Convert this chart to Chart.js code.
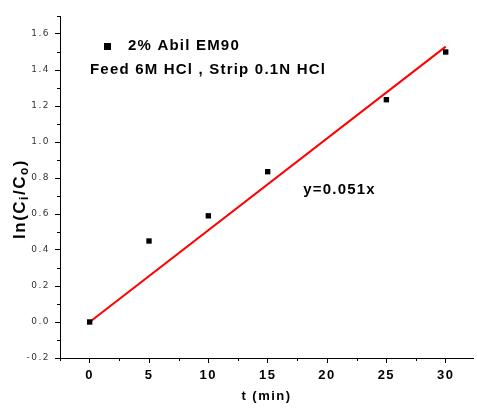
<!DOCTYPE html>
<html>
<head>
<meta charset="utf-8">
<script src="https://cdn.jsdelivr.net/npm/chart.js@4/dist/chart.umd.min.js"></script>
<style>
  html, body { margin: 0; padding: 0; background: #fff; }
  #wrap { width: 477px; height: 408px; position: relative; }
</style>
</head>
<body>
<div id="wrap"><canvas id="chart"></canvas></div>
<script>
// measured points, ln(Ci/Co) vs t
const timeMin = [0, 5, 10, 15, 25, 30];
const lnRatio = [0.0, 0.45, 0.59, 0.835, 1.235, 1.50];

// linear fit y = 0.051x
const fitX = [0, 30];
const fitY = [0, 1.53];

const xTicks = [0, 5, 10, 15, 20, 25, 30];
const xMinor = [-2.5, 2.5, 7.5, 12.5, 17.5, 22.5, 27.5, 32.5];
const yTicks = [-0.2, 0, 0.2, 0.4, 0.6, 0.8, 1.0, 1.2, 1.4, 1.6];
const yMinor = [-0.1, 0.1, 0.3, 0.5, 0.7, 0.9, 1.1, 1.3, 1.5, 1.7];

const seriesLabel = '2% Abil EM90';
const noteLine = 'Feed 6M HCl , Strip 0.1N HCl';
const fitLabel = 'y=0.051x';

const FONT = '"Liberation Sans", Arial, sans-serif';

// Origin-style wide letter spacing for the axis text
const spacing = {
  id: 'spacing',
  beforeDraw(chart) { chart.ctx.letterSpacing = '1.5px'; },
  afterDraw(chart) { chart.ctx.letterSpacing = '0px'; }
};

// minor ticks + texts that Origin puts inside the plot
const extras = {
  id: 'extras',
  afterDraw(chart) {
    const ctx = chart.ctx;
    const xs = chart.scales.x, ys = chart.scales.y;
    const area = chart.chartArea;
    ctx.save();
    ctx.strokeStyle = '#000';
    ctx.lineWidth = 1;
    ctx.beginPath();
    xMinor.forEach(v => {
      const px = Math.round(xs.getPixelForValue(v)) + 0.5;
      if (px < area.left - 1 || px > area.right + 1) return;
      ctx.moveTo(px, area.bottom);
      ctx.lineTo(px, area.bottom + 3);
    });
    yMinor.forEach(v => {
      const py = Math.round(ys.getPixelForValue(v)) + 0.5;
      if (py < area.top - 1 || py > area.bottom + 1) return;
      ctx.moveTo(area.left, py);
      ctx.lineTo(area.left - 3, py);
    });
    ctx.stroke();

    // legend
    ctx.fillStyle = '#000';
    ctx.fillRect(104, 43, 7, 7);
    ctx.font = 'bold 15px ' + FONT;
    ctx.letterSpacing = '1.2px';
    ctx.textBaseline = 'middle';
    ctx.textAlign = 'left';
    ctx.fillText(seriesLabel, 128, 46);
    ctx.fillText(noteLine, 90, 70);

    // fit equation
    ctx.fillText(fitLabel, xs.getPixelForValue(18), ys.getPixelForValue(0.735));

    // y axis title with subscripts
    ctx.translate(20, 199);
    ctx.rotate(-Math.PI / 2);
    const big = 'bold 17px ' + FONT;
    const small = 'bold 12px ' + FONT;
    const parts = [['ln(C', big, 0], ['i', small, 5], ['/C', big, 0], ['o', small, 5], [')', big, 0]];
    ctx.letterSpacing = '1.5px';
    let w = 0;
    parts.forEach(p => { ctx.font = p[1]; w += ctx.measureText(p[0]).width; });
    let x = -w / 2;
    parts.forEach(p => {
      ctx.font = p[1];
      ctx.fillText(p[0], x, p[2]);
      x += ctx.measureText(p[0]).width;
    });
    ctx.restore();
  }
};

new Chart(document.getElementById('chart'), {
  type: 'scatter',
  data: {
    datasets: [
      {
        label: seriesLabel,
        data: timeMin.map((t, i) => ({ x: t, y: lnRatio[i] })),
        pointStyle: 'rect',
        pointRadius: 3.8,
        backgroundColor: '#000',
        borderColor: '#000',
        borderWidth: 0
      },
      {
        type: 'line',
        label: fitLabel,
        data: fitX.map((t, i) => ({ x: t, y: fitY[i] })),
        borderColor: '#ff0000',
        borderWidth: 2,
        pointRadius: 0,
        fill: false
      }
    ]
  },
  options: {
    responsive: true,
    maintainAspectRatio: false,
    animation: false,
    layout: { padding: { top: 16, right: 0, left: 0, bottom: 0 } },
    plugins: {
      legend: { display: false },
      tooltip: { enabled: false }
    },
    scales: {
      x: {
        type: 'linear',
        min: -2.5,
        max: 32.3,
        afterBuildTicks: s => { s.ticks = xTicks.map(v => ({ value: v })); },
        afterFit: s => { s.height = 50; },
        grid: { drawOnChartArea: false, drawTicks: true, tickLength: 5, color: '#000' },
        border: { color: '#000', width: 1 },
        ticks: {
          color: '#000',
          padding: 5,
          maxRotation: 0,
          font: { family: FONT, size: 13, weight: 'bold' }
        },
        title: {
          display: true,
          text: 't (min)',
          color: '#000',
          font: { family: FONT, size: 13, weight: 'bold' },
          padding: { top: 9 }
        }
      },
      y: {
        type: 'linear',
        min: -0.2,
        max: 1.7,
        afterBuildTicks: s => { s.ticks = yTicks.map(v => ({ value: v })); },
        afterFit: s => { s.width = 60; },
        grid: { drawOnChartArea: false, drawTicks: true, tickLength: 5, color: '#000' },
        border: { color: '#000', width: 1 },
        ticks: {
          color: '#333',
          padding: 5,
          callback: v => v.toFixed(1),
          font: { family: '"DejaVu Sans", sans-serif', size: 9 }
        }
      }
    }
  },
  plugins: [spacing, extras]
});
</script>
</body>
</html>
